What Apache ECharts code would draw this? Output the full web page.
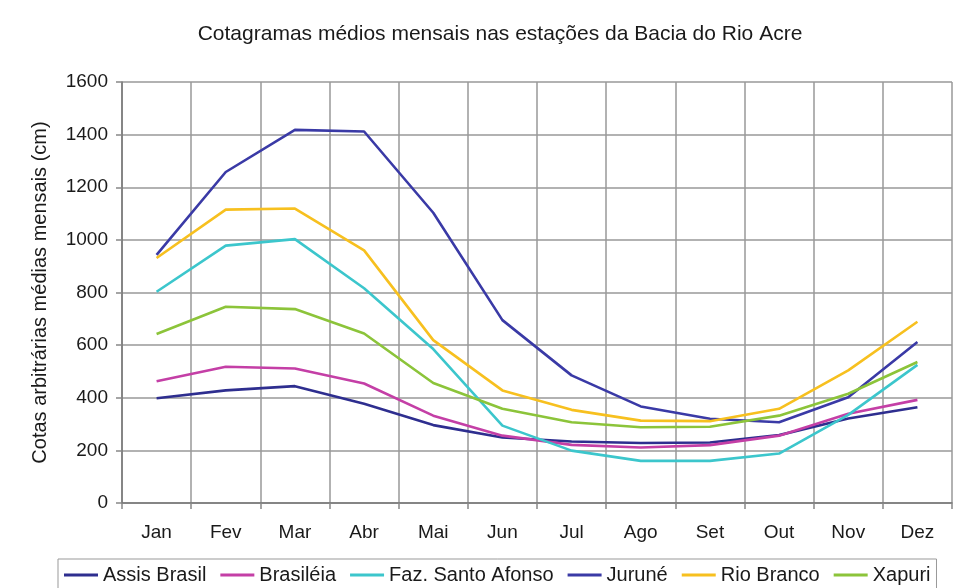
<!DOCTYPE html>
<html>
<head>
<meta charset="utf-8">
<script src="https://cdn.jsdelivr.net/npm/echarts@6/dist/echarts.min.js"></script>
<style>
html, body { margin: 0; padding: 0; background: #fff; }
#chart { width: 958px; height: 588px; }
</style>
</head>
<body>
<div id="chart"></div>
<script>
// meses
var months = ['Jan', 'Fev', 'Mar', 'Abr', 'Mai', 'Jun', 'Jul', 'Ago', 'Set', 'Out', 'Nov', 'Dez'];

// cotas médias mensais (cm) por estação
var assisBrasil = [398, 428, 444, 377, 296, 249, 234, 228, 230, 258, 321, 364];
var brasileia = [463, 518, 511, 454, 332, 256, 221, 211, 220, 256, 339, 392];
var fazSantoAfonso = [803, 978, 1003, 816, 585, 294, 199, 160, 160, 188, 335, 525];
var jurune = [943, 1258, 1418, 1412, 1103, 695, 485, 367, 320, 307, 402, 612];
var rioBranco = [931, 1115, 1119, 960, 619, 428, 354, 313, 311, 358, 504, 689];
var xapuri = [642, 746, 737, 644, 456, 358, 307, 288, 290, 332, 415, 536];

var yTicks = [0, 200, 400, 600, 800, 1000, 1200, 1400, 1600];

var seriesNames = ['Assis Brasil', 'Brasiléia', 'Faz. Santo Afonso', 'Juruné', 'Rio Branco', 'Xapuri'];
var seriesData = [assisBrasil, brasileia, fazSantoAfonso, jurune, rioBranco, xapuri];
var seriesColors = ['#2e2e8f', '#c43fa6', '#3cc6cc', '#3a3aa6', '#f7c01f', '#8cc43a'];

var font = 'Liberation Sans, Arial, sans-serif';
var textColor = '#1a1a1a';

var myChart = echarts.init(document.getElementById('chart'));

var series = [];
for (var i = 0; i < seriesNames.length; i++) {
    series.push({
        name: seriesNames[i],
        type: 'line',
        symbol: 'none',
        lineStyle: { width: 2.6, color: seriesColors[i] },
        itemStyle: { color: seriesColors[i] },
        data: seriesData[i]
    });
}

var option = {
    backgroundColor: '#fff',
    animation: false,
    color: seriesColors,
    title: {
        text: 'Cotagramas médios mensais nas estações da Bacia do Rio Acre',
        left: 495,
        top: 19,
        textAlign: 'center',
        textStyle: {
            fontFamily: font,
            fontSize: 21,
            fontWeight: 'normal',
            color: textColor
        }
    },
    legend: {
        data: seriesNames,
        left: 58,
        top: 559,
        icon: 'rect',
        itemWidth: 34,
        itemHeight: 3,
        itemGap: 14,
        padding: [6, 6, 10, 6],
        borderColor: '#999',
        borderWidth: 1,
        textStyle: {
            fontFamily: font,
            fontSize: 20,
            color: textColor
        }
    },
    grid: {
        left: 122,
        right: 6,
        top: 82,
        bottom: 85
    },
    xAxis: {
        type: 'category',
        data: months,
        boundaryGap: true,
        axisLine: { lineStyle: { color: '#777', width: 1.5 } },
        axisTick: { show: true, length: 6, lineStyle: { color: '#888', width: 1.5 } },
        splitLine: { show: true, lineStyle: { color: '#999', width: 1.5 } },
        axisLabel: {
            fontFamily: font,
            fontSize: 19,
            color: textColor,
            margin: 20
        }
    },
    yAxis: {
        type: 'value',
        min: yTicks[0],
        max: yTicks[yTicks.length - 1],
        interval: 200,
        name: 'Cotas arbitrárias médias mensais (cm)',
        nameLocation: 'middle',
        nameGap: 72,
        nameTextStyle: {
            fontFamily: font,
            fontSize: 20,
            color: textColor
        },
        axisLine: { show: true, lineStyle: { color: '#777', width: 1.5 } },
        axisTick: { show: true, length: 6, lineStyle: { color: '#888', width: 1.5 } },
        splitLine: { show: true, lineStyle: { color: '#999', width: 1.5 } },
        axisLabel: {
            fontFamily: font,
            fontSize: 19,
            color: textColor,
            margin: 14,
            formatter: function (v) { return String(v); }
        }
    },
    series: series
};
myChart.setOption(option);
</script>
</body>
</html>
